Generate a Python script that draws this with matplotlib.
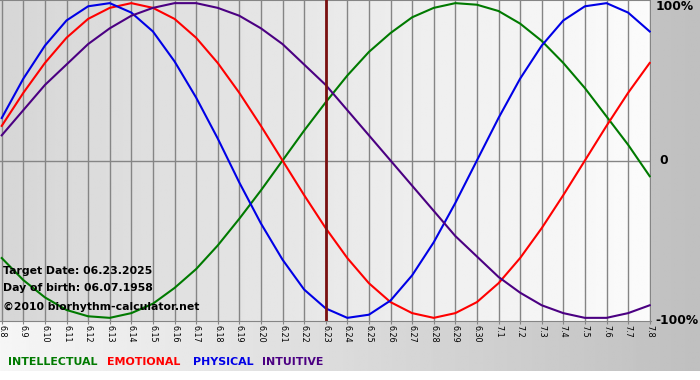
import matplotlib.pyplot as plt
import numpy as np

# days shown on the x axis (m.d)
days = ['6.8', '6.9', '6.10', '6.11', '6.12', '6.13', '6.14', '6.15', '6.16',
        '6.17', '6.18', '6.19', '6.20', '6.21', '6.22', '6.23', '6.24', '6.25',
        '6.26', '6.27', '6.28', '6.29', '6.30', '7.1', '7.2', '7.3', '7.4',
        '7.5', '7.6', '7.7', '7.8']
target_day = '6.23'

# cycle values, -1 .. 1
physical = [0.27, 0.52, 0.73, 0.89, 0.98, 1.00, 0.94, 0.82, 0.63, 0.40, 0.14,
            -0.14, -0.40, -0.63, -0.82, -0.94, -1.00, -0.98, -0.89, -0.73,
            -0.52, -0.27, 0.00, 0.27, 0.52, 0.73, 0.89, 0.98, 1.00, 0.94, 0.82]
emotional = [0.22, 0.43, 0.62, 0.78, 0.90, 0.97, 1.00, 0.97, 0.90, 0.78, 0.62,
             0.43, 0.22, 0.00, -0.22, -0.43, -0.62, -0.78, -0.90, -0.97,
             -1.00, -0.97, -0.90, -0.78, -0.62, -0.43, -0.22, 0.00, 0.22,
             0.43, 0.62]
intellectual = [-0.62, -0.76, -0.87, -0.95, -0.99, -1.00, -0.97, -0.91, -0.81,
                -0.69, -0.54, -0.37, -0.19, 0.00, 0.19, 0.37, 0.54, 0.69,
                0.81, 0.91, 0.97, 1.00, 0.99, 0.95, 0.87, 0.76, 0.62, 0.46,
                0.28, 0.10, -0.10]
intuitive = [0.16, 0.32, 0.48, 0.61, 0.74, 0.84, 0.92, 0.97, 1.00, 1.00, 0.97,
             0.92, 0.84, 0.74, 0.61, 0.48, 0.32, 0.16, 0.00, -0.16, -0.32,
             -0.48, -0.61, -0.74, -0.84, -0.92, -0.97, -1.00, -1.00, -0.97,
             -0.92]

series = [('INTELLECTUAL', intellectual, '#007a00'),
          ('EMOTIONAL', emotional, '#ff0000'),
          ('PHYSICAL', physical, '#0000e6'),
          ('INTUITIVE', intuitive, '#4b0082')]

W, H = 700, 380
fig = plt.figure(figsize=(W / 100, H / 100), dpi=100)

# page background: grey gradient, white strip at the very bottom
bg = fig.add_axes([0, 0, 1, 1])
grad = np.linspace(0.965, 0.75, 256)
img = np.tile(grad, (64, 1))
bg.imshow(img, cmap='gray', vmin=0, vmax=1, aspect='auto',
          extent=[0, 1, 9 / H, 1])
bg.set_xlim(0, 1)
bg.set_ylim(0, 1)
bg.axis('off')

# plot area
ax = fig.add_axes([0, 59 / H, 651 / W, 321 / H])
x = np.arange(len(days))
ax.set_xlim(-0.08, 30.06)
ax.set_ylim(-1.02, 1.02)
pgrad = np.tile(np.linspace(0.84, 0.985, 256), (8, 1))
ax.imshow(pgrad, cmap='gray', vmin=0, vmax=1, aspect='auto',
          extent=[-0.08, 30.06, -1.02, 1.02], zorder=0)

for xi in x:
    ax.axvline(xi, color='#858585', lw=1, zorder=1)
ax.axhline(0, color='#858585', lw=1, zorder=1)
ax.axhline(1.02, color='#858585', lw=1.5, zorder=1)
ax.axvline(days.index(target_day), color='#7a1010', lw=2, zorder=3)

for name, vals, col in series:
    ax.plot(x, vals, color=col, lw=1.5, zorder=2,
            solid_joinstyle='round')

for s in ['top', 'right', 'left']:
    ax.spines[s].set_visible(False)
ax.spines['bottom'].set_color('#858585')
ax.set_yticks([])
ax.set_xticks(x)
ax.set_xticklabels(days, rotation=270, fontsize=5.8)
ax.tick_params(axis='x', length=2, pad=1, color='#858585')

# right side percent labels
fig.text(694 / W, 1 - 7 / H, '100%', ha='right', va='center',
         fontsize=8.8, fontweight='bold')
fig.text(659 / W, 1 - 161 / H, '0', ha='left', va='center',
         fontsize=8.8, fontweight='bold')
fig.text(698 / W, 1 - 321 / H, '-100%', ha='right', va='center',
         fontsize=8.8, fontweight='bold')

# info block
info = ['Target Date: 06.23.2025', 'Day of birth: 06.07.1958',
        '\u00a92010 biorhythm-calculator.net']
for txt, yp in zip(info, [271, 288, 307]):
    ax.text(0.004, 1 - yp / 321, txt, transform=ax.transAxes,
            fontsize=7.8, fontweight='bold', va='center', zorder=4)

# legend as coloured words
xpos = [8, 107, 193, 262]
for (name, vals, col), xp in zip(series, xpos):
    fig.text(xp / W, 1 - 362 / H, name, color=col, fontsize=7.9,
             fontweight='bold', va='center', ha='left')

plt.savefig('out.png', dpi=100)
